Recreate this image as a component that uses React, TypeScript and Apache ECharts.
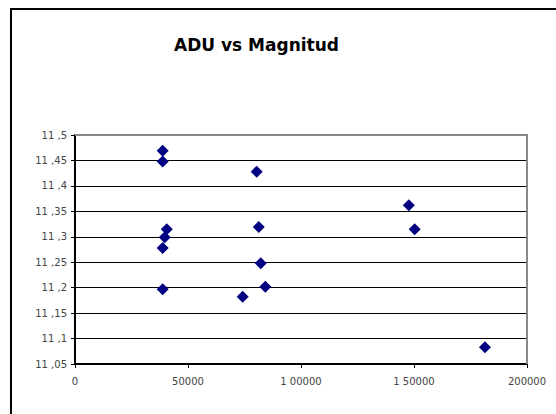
import React, { useEffect, useRef } from "react";
import * as echarts from "echarts";

const titleText = "ADU vs Magnitud";
const aduValues = [38800, 38800, 40600, 39700, 38800, 38800, 80400, 81300, 82200, 84200, 74200, 147700, 150300, 181400];
const magValues = [11.469, 11.448, 11.315, 11.299, 11.278, 11.197, 11.428, 11.319, 11.248, 11.202, 11.182, 11.362, 11.315, 11.083];

function fmtX(v: number): string {
  const s = String(Math.round(v));
  if (s.length > 5 && s[0] === "1") return "1 " + s.slice(1);
  return s;
}
function fmtY(v: number): string {
  const s = (Math.round(v * 100) / 100).toString();
  const [a, b] = s.split(".");
  return b ? `${a} ,${b}` : a;
}

export default function App() {
  const ref = useRef<HTMLDivElement>(null);
  useEffect(() => {
    document.body.style.margin = "0";
    const chart = echarts.init(ref.current!, null, { renderer: "svg" });
    const data = aduValues.map((x, i) => [x, magValues[i]]);
    chart.setOption({
      animation: false,
      backgroundColor: "#ffffff",
      title: {
        text: titleText,
        left: 169,
        top: 31,
        textStyle: { fontFamily: "DejaVu Sans", fontWeight: "bold", fontSize: 17, color: "#000" },
      },
      grid: { left: 75, top: 135, right: 29, bottom: 50, show: false },
      xAxis: {
        type: "value",
        min: 0,
        max: 200000,
        interval: 50000,
        axisLine: { show: true, onZero: false, lineStyle: { color: "#000", width: 2 } },
        axisTick: { show: true, length: 4, lineStyle: { color: "#000" } },
        splitLine: { show: false },
        axisLabel: { formatter: fmtX, color: "#444", fontFamily: "DejaVu Sans", fontSize: 10, margin: 12 },
      },
      yAxis: {
        type: "value",
        min: 11.05,
        max: 11.5,
        interval: 0.05,
        axisLine: { show: true, onZero: false, lineStyle: { color: "#000", width: 2 } },
        axisTick: { show: true, length: 4, lineStyle: { color: "#000" } },
        splitLine: { show: true, lineStyle: { color: "#000", width: 1 } },
        axisLabel: { formatter: fmtY, color: "#444", fontFamily: "DejaVu Sans", fontSize: 10, margin: 8 },
      },
      graphic: [
        { type: "rect", shape: { x: 11, y: 9, width: 600, height: 500 }, style: { fill: "none", stroke: "#000", lineWidth: 2 }, z: 100 },
        { type: "line", shape: { x1: 75, y1: 135, x2: 527, y2: 135 }, style: { stroke: "#888", lineWidth: 2 }, z: 100 },
        { type: "line", shape: { x1: 527, y1: 134, x2: 527, y2: 364 }, style: { stroke: "#888", lineWidth: 2 }, z: 100 },
      ],
      series: [
        {
          type: "scatter",
          data,
          symbol: "diamond",
          symbolSize: [12, 12],
          itemStyle: { color: "#000080", opacity: 1 },
          z: 10,
        },
      ],
    });
    return () => chart.dispose();
  }, []);
  return <div ref={ref} style={{ width: 556, height: 414, position: "fixed", left: 0, top: 0 }} />;
}
